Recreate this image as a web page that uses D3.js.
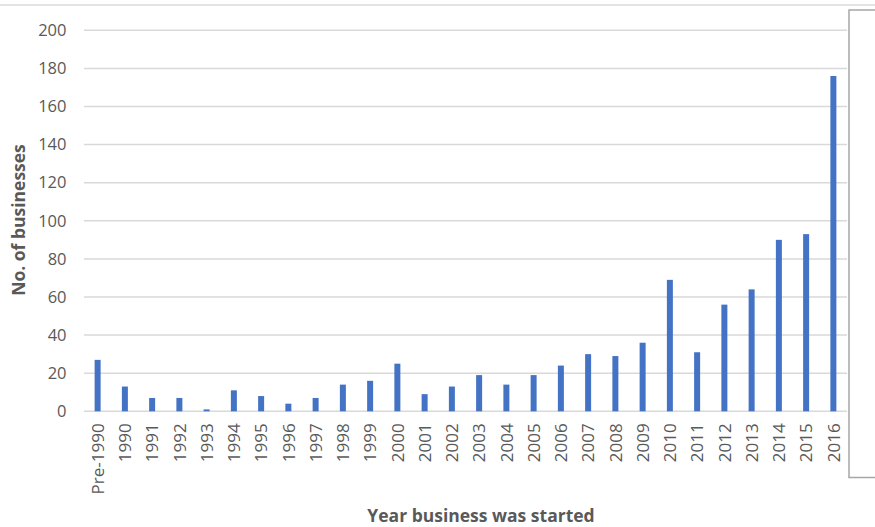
<!DOCTYPE html>
<html>
<head>
<meta charset="utf-8">
<script src="https://cdn.jsdelivr.net/npm/d3@7"></script>
<style>
  html, body { margin: 0; padding: 0; background: #fff; }
  svg { display: block; }
  text { font-family: "Open Sans", Lato, sans-serif; fill: #595959; }
</style>
</head>
<body>
<svg id="chart" width="875" height="527"></svg>
<script>
// Businesses by year started
const years = ["Pre-1990", "1990", "1991", "1992", "1993", "1994", "1995", "1996", "1997",
  "1998", "1999", "2000", "2001", "2002", "2003", "2004", "2005", "2006", "2007", "2008",
  "2009", "2010", "2011", "2012", "2013", "2014", "2015", "2016"];
const businesses = [27, 13, 7, 7, 1, 11, 8, 4, 7, 14, 16, 25, 9, 13, 19, 14, 19, 24, 30, 29,
  36, 69, 31, 56, 64, 90, 93, 176];
const yTicks = [0, 20, 40, 60, 80, 100, 120, 140, 160, 180, 200];

const svg = d3.select("#chart");
const W = 875, H = 527;
const plot = { left: 84, right: 847, top: 30.3, bottom: 411.3 };
const FONT = "'Open Sans', Lato, sans-serif";

const x = d3.scaleBand().domain(years).range([plot.left, plot.right]).paddingInner(0.78).paddingOuter(0.39);
const y = d3.scaleLinear().domain([0, 200]).range([plot.bottom, plot.top]);

// faint frame line along the top edge
svg.append("line").attr("x1", 0).attr("x2", W).attr("y1", 5).attr("y2", 5)
  .attr("stroke", "#e3e3e3").attr("stroke-width", 2);

// legend frame on the right edge
svg.append("path")
  .attr("d", `M${W},10 H849 V477.5 H${W}`)
  .attr("fill", "none").attr("stroke", "#a6a6a6").attr("stroke-width", 1.5);

// horizontal gridlines
svg.append("g").selectAll("line").data(yTicks).join("line")
  .attr("x1", plot.left).attr("x2", plot.right)
  .attr("y1", d => y(d)).attr("y2", d => y(d))
  .attr("stroke", "#d9d9d9").attr("stroke-width", 1.5);

// y axis labels
const yAxis = svg.append("g").attr("transform", `translate(${plot.left - 17.5},0)`)
  .call(d3.axisLeft(y).tickValues(yTicks).tickSize(0).tickPadding(0));
yAxis.select(".domain").remove();
yAxis.selectAll("text").style("font-size", "16.5px").attr("fill", "#595959")
  .style("font-family", FONT);

// bars
svg.append("g").selectAll("rect").data(years).join("rect")
  .attr("x", d => x(d))
  .attr("width", x.bandwidth())
  .attr("y", (d, i) => y(businesses[i]))
  .attr("height", (d, i) => y(0) - y(businesses[i]))
  .attr("fill", "#4472c4");

// x axis labels, rotated
const xAxis = svg.append("g").attr("transform", `translate(0,${plot.bottom})`)
  .call(d3.axisBottom(x).tickSize(0).tickPadding(0));
xAxis.select(".domain").remove();
xAxis.selectAll("text")
  .attr("transform", "rotate(-90)")
  .attr("text-anchor", "end")
  .attr("x", -12)
  .attr("y", 0)
  .attr("dy", "0.36em")
  .style("font-size", "17px").attr("fill", "#595959")
  .style("font-family", FONT);

// axis titles
svg.append("text")
  .attr("transform", "translate(24.5,220) rotate(-90)")
  .attr("text-anchor", "middle")
  .style("font-size", "17.5px").style("font-weight", "bold")
  .text("No. of businesses");

svg.append("text")
  .attr("x", 481).attr("y", 521.5)
  .attr("text-anchor", "middle")
  .style("font-size", "17.5px").style("font-weight", "bold")
  .text("Year business was started");
</script>
</body>
</html>
